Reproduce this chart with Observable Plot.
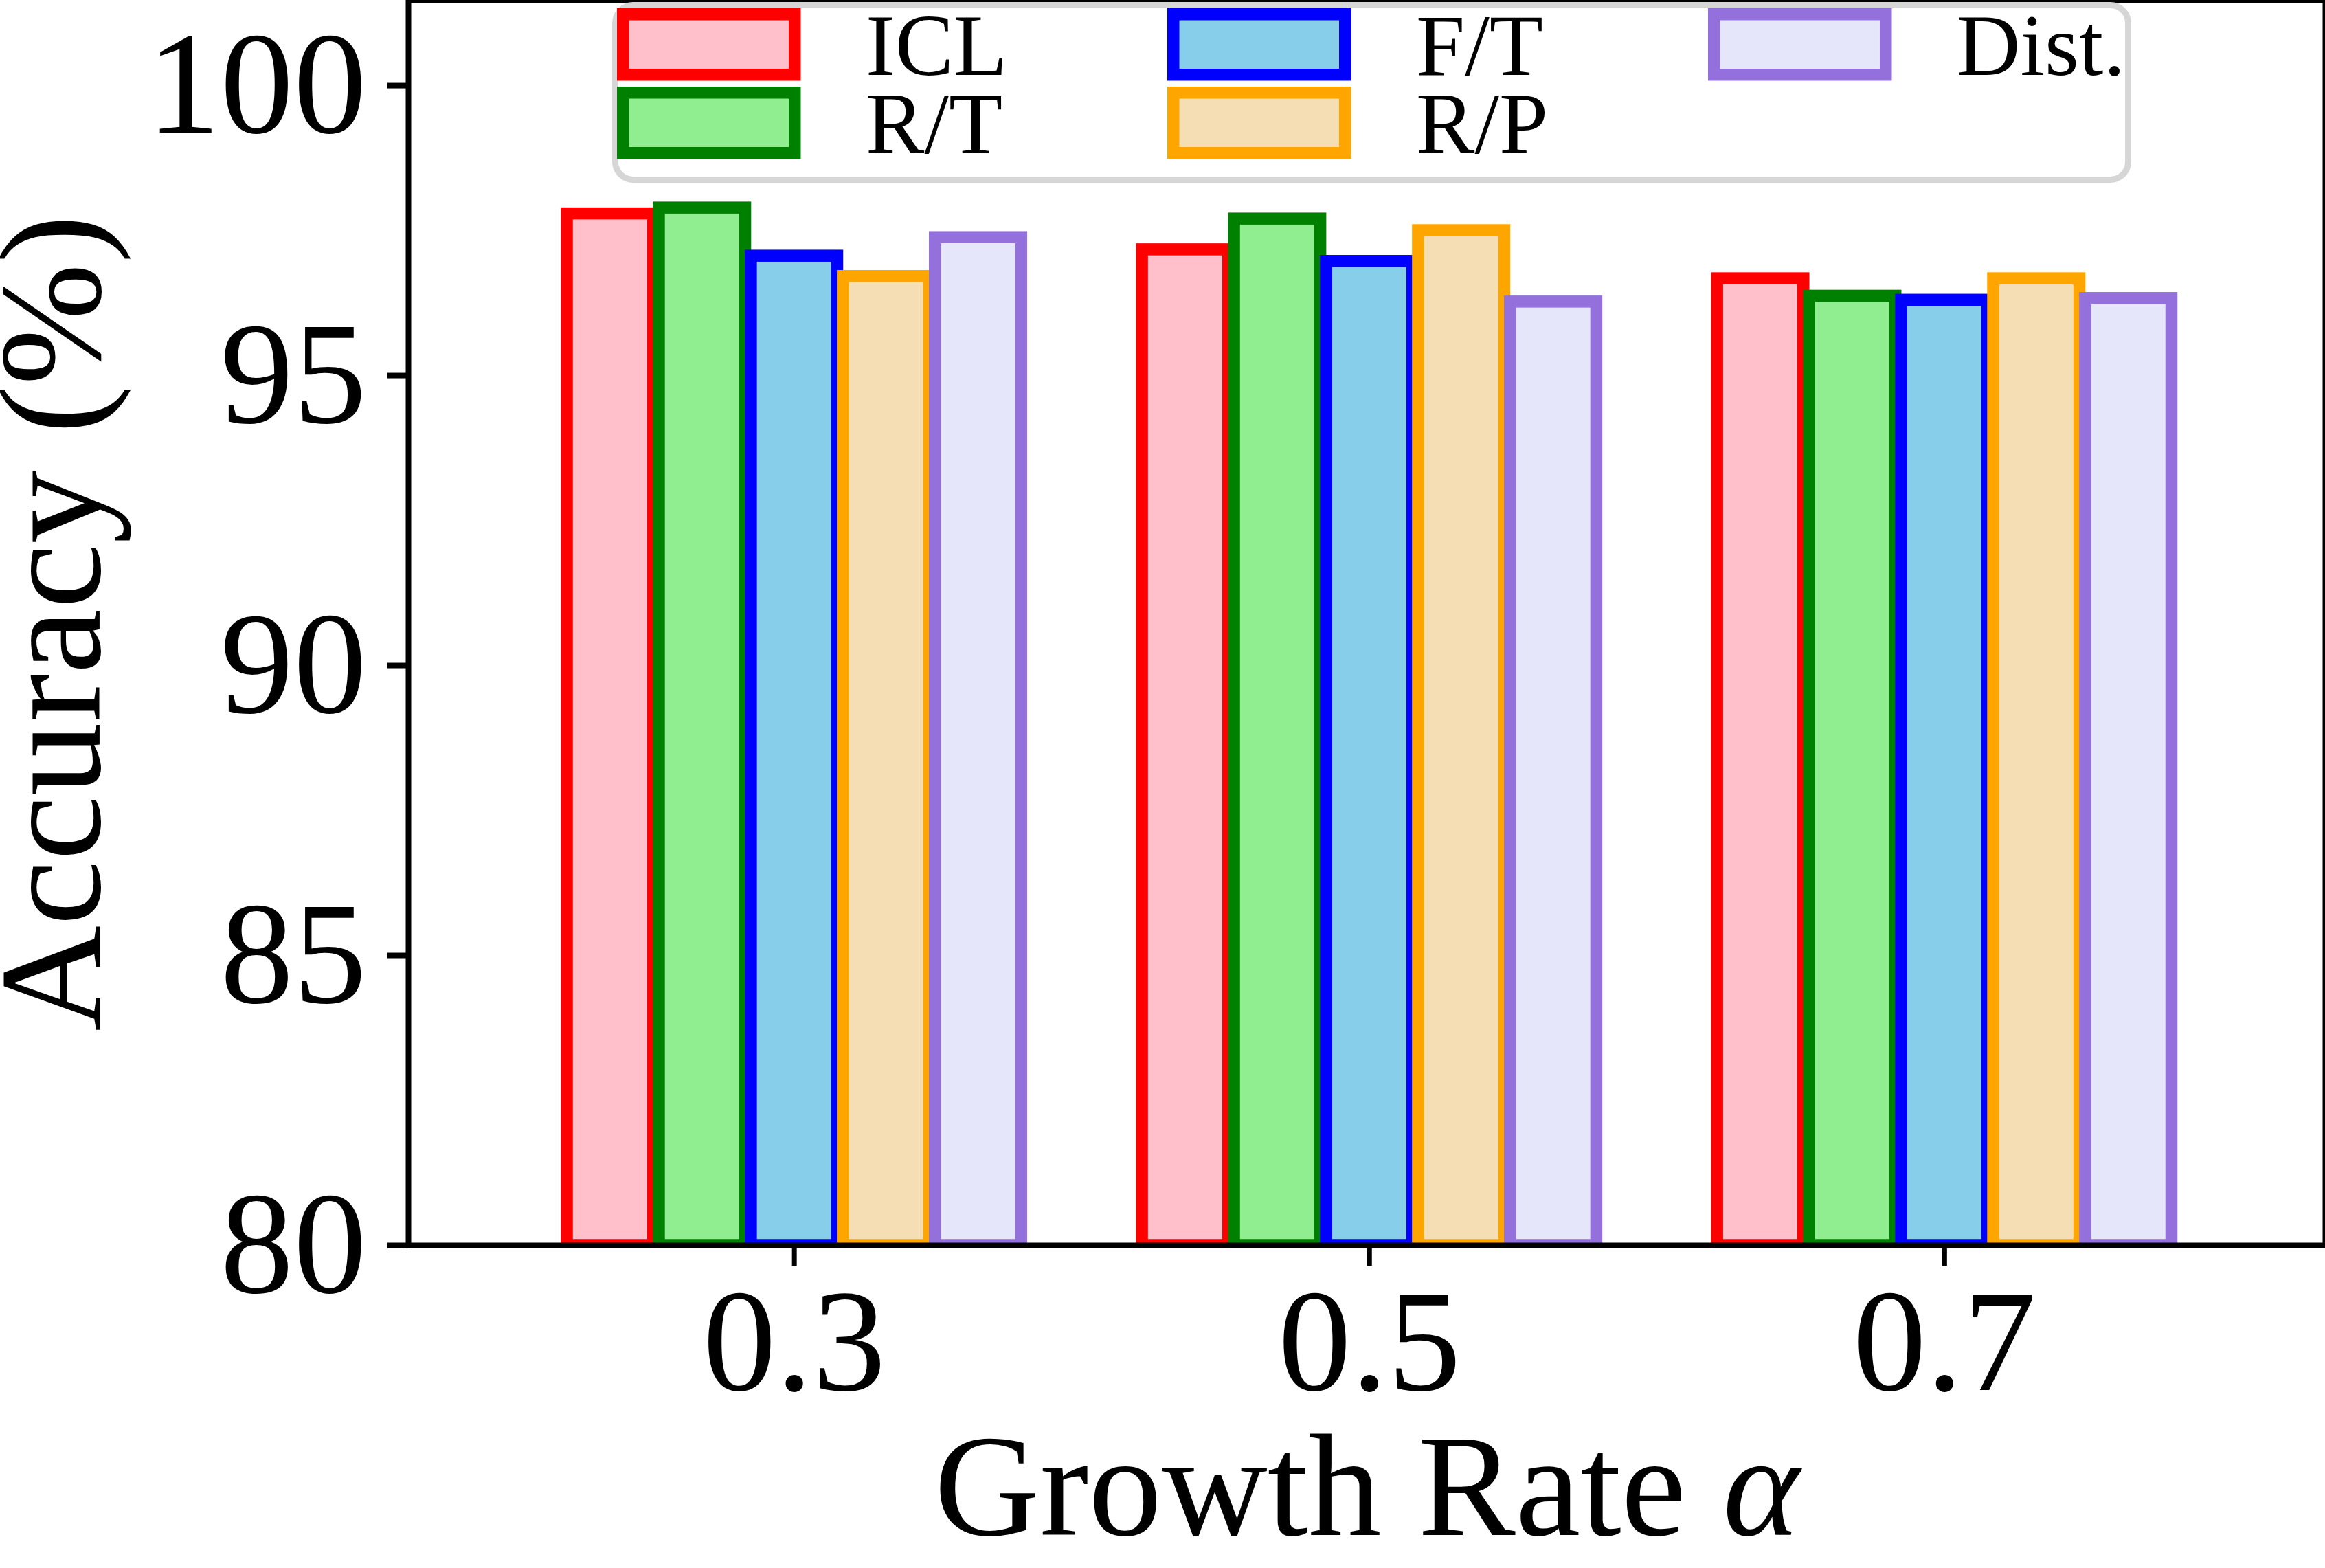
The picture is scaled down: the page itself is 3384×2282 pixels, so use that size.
<!DOCTYPE html>
<html>
<head>
<meta charset="utf-8">
<script src="https://cdn.jsdelivr.net/npm/d3@7"></script>
<script src="https://cdn.jsdelivr.net/npm/@observablehq/plot@0.6"></script>
<style>
html, body { margin: 0; padding: 0; background: #fff; }
#chart svg { display: block; }
</style>
</head>
<body>
<div id="chart"></div>
<script>
// ---- data ----
const groups = ["0.3", "0.5", "0.7"];
const seriesNames = ["ICL", "R/T", "F/T", "R/P", "Dist."];
const iclValues  = [97.79, 97.17, 96.67];
const rtValues   = [97.89, 97.70, 96.37];
const ftValues   = [97.06, 96.97, 96.30];
const rpValues   = [96.71, 97.50, 96.67];
const distValues = [97.38, 96.27, 96.33];
const yTicks = [80, 85, 90, 95, 100];

// ---- styles ----
const strokeColors = ["#ff0000", "#008000", "#0000ff", "#ffa500", "#9370db"];
const fillColors   = ["#ffc0cb", "#90ee90", "#87ceeb", "#f5deb3", "#e6e6fa"];
const seriesValues = [iclValues, rtValues, ftValues, rpValues, distValues];
const barWidth = 0.15, barStep = 0.16;
const yDomain = [80, 101.47];
const xDomain = [-0.671, 2.662];
const font = "'Liberation Serif', 'Times New Roman', Times, serif";

const rows = seriesNames.flatMap((s, si) =>
  groups.map((g, gi) => ({series: s, si, gi, value: seriesValues[si][gi]})));

const W = 3384, H = 2282;
const plot = Plot.plot({
  width: W, height: H,
  marginLeft: 594, marginRight: 0, marginTop: 0, marginBottom: 470,
  style: {fontFamily: font, fontSize: "213px", background: "#fff", color: "#000", overflow: "hidden"},
  x: {domain: xDomain},
  y: {domain: yDomain},
  marks: [
    ...seriesNames.map((s, i) => Plot.rect(rows.filter(d => d.si === i), {
      x1: d => d.gi + (d.si - 2) * barStep - barWidth / 2,
      x2: d => d.gi + (d.si - 2) * barStep + barWidth / 2,
      y1: yDomain[0],
      y2: "value",
      fill: fillColors[i],
      stroke: strokeColors[i],
      strokeWidth: 17.5,
      clip: true
    })),
    Plot.axisY({
      ticks: yTicks, tickSize: 30, tickPadding: 31, strokeWidth: 8,
      fontSize: 213, fontFamily: font,
      label: "Accuracy (%)", labelAnchor: "center", labelOffset: 601, labelArrow: "none"
    }),
    Plot.axisX({
      ticks: [0, 1, 2], tickFormat: i => groups[i], tickSize: 30, tickPadding: 29.5, strokeWidth: 7,
      fontSize: 213, fontFamily: font,
      label: "Growth Rate α", labelAnchor: "center", labelOffset: 421, labelArrow: "none"
    }),
    Plot.frame({stroke: "#000", strokeWidth: 8})
  ]
});

document.getElementById("chart").appendChild(plot);

// italic alpha in x label
const svg = d3.select(plot);
svg.selectAll("text").filter(function () { return this.textContent === "Growth Rate α"; })
  .each(function () {
    const t = d3.select(this);
    t.text("");
    t.style("white-space", "pre");
    t.append("tspan").text("Growth Rate ");
    t.append("tspan").attr("font-style", "italic").text("α");
  });

// ---- legend (matplotlib style, 3 columns, column-major) ----
const legendColLeft = [898, 1699, 2486];
const legendRowTop = [12, 126];
const legend = svg.append("g").attr("class", "legend").attr("text-anchor", "start");
legend.append("rect")
  .attr("x", 895.5).attr("y", 7.5).attr("width", 2202).attr("height", 254)
  .attr("rx", 26).attr("ry", 26)
  .attr("fill", "#fff").attr("fill-opacity", 0.8)
  .attr("stroke", "#d6d6d6").attr("stroke-width", 9);
seriesNames.forEach((s, i) => {
  const c = Math.floor(i / 2), r = i % 2;
  legend.append("rect")
    .attr("x", legendColLeft[c] + 8.75).attr("y", legendRowTop[r] + 8.75)
    .attr("width", 250).attr("height", 88)
    .attr("fill", fillColors[i]).attr("stroke", strokeColors[i]).attr("stroke-width", 17.5);
  legend.append("text")
    .attr("x", legendColLeft[c] + 362).attr("y", legendRowTop[r] + 97)
    .attr("text-anchor", "start")
    .attr("font-family", font).attr("font-size", 128).attr("fill", "#000")
    .text(s);
});
</script>
</body>
</html>
